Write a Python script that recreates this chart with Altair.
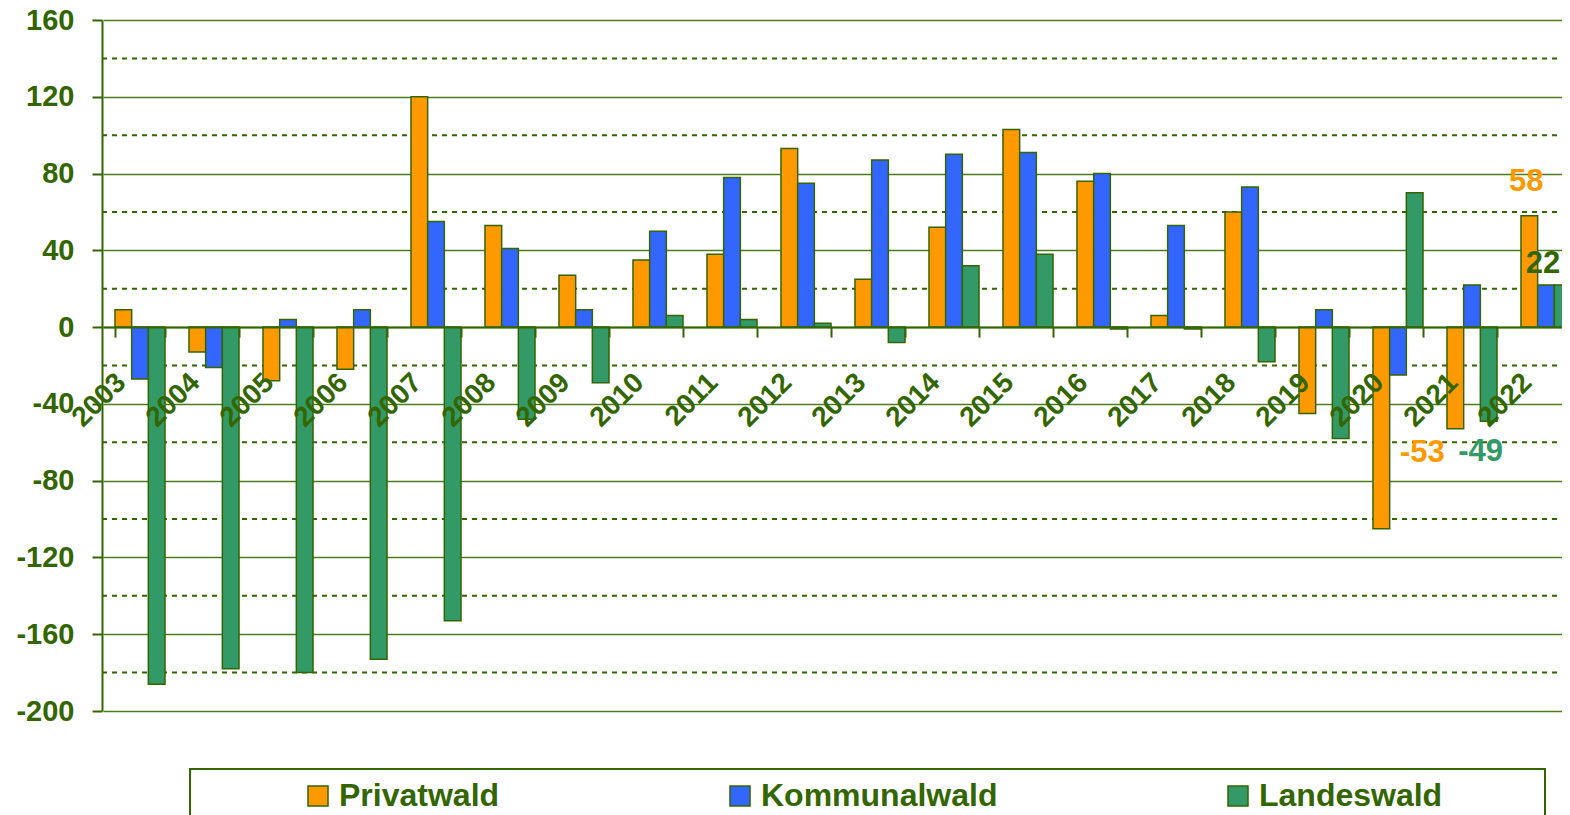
import altair as alt
import pandas as pd

# ---------------- data ----------------
years = [str(y) for y in range(2003, 2023)]
series = ["Privatwald", "Kommunalwald", "Landeswald"]
privatwald = [9, -13, -28, -22, 120, 53, 27, 35, 38, 93, 25, 52, 103, 76, 6, 60, -45, -105, -53, 58]
kommunalwald = [-27, -21, 4, 9, 55, 41, 9, 50, 78, 75, 87, 90, 91, 80, 53, 73, 9, -25, 22, 22]
landeswald = [-186, -178, -180, -173, -153, -48, -29, 6, 4, 2, -8, 32, 38, -1, -1, -18, -58, 70, -49, 22]
colors = ["#FF9900", "#3366FF", "#339966"]

y_ticks = [-200, -160, -120, -80, -40, 0, 40, 80, 120, 160]
y_minor = [-180, -140, -100, -60, -20, 20, 60, 100, 140]

ann_year = ["2022", "2022", "2021", "2021"]
ann_series = ["Privatwald", "Kommunalwald", "Privatwald", "Landeswald"]
ann_value = [58, 22, -53, -49]
ann_text = ["58", "22", "-53", "-49"]
ann_color = ["#FF9900", "#336600", "#FF9900", "#339966"]
ann_dx = [-3, -3, -33, -8]
ann_dy = [-34, -21, 24, 31]

# ---------------- style ----------------
FONT = "Liberation Sans"
DARK = "#336600"
GRID = "#4d7c1e"
W, H = 1460, 691

rows = []
for i, yr in enumerate(years):
    rows.append({"Jahr": yr, "Serie": "Privatwald", "Wert": privatwald[i]})
    rows.append({"Jahr": yr, "Serie": "Kommunalwald", "Wert": kommunalwald[i]})
    rows.append({"Jahr": yr, "Serie": "Landeswald", "Wert": landeswald[i]})
df = pd.DataFrame(rows)

yscale = alt.Scale(domain=[-200, 160], nice=False, zero=False)
y_axis = alt.Axis(
    title=None, values=y_ticks, grid=True, gridColor=GRID, gridWidth=1.5,
    domainColor=DARK, domainWidth=2, tickColor=DARK, tickWidth=2, tickSize=10,
    labelPadding=18, labelFont=FONT, labelFontSize=29, labelFontWeight="bold",
    labelColor=DARK, labelExpr="'' + datum.value",
)
xscale = alt.Scale(domain=years, range=[1, 1481], paddingInner=0.324, paddingOuter=0.162)
zero_px = H * 160 / 360
x_axis = alt.Axis(
    title=None, orient="bottom", offset=-(H - zero_px), grid=False, zindex=1,
    domainColor=DARK, domainWidth=2, tickColor=DARK, tickWidth=2, tickSize=10,
    tickBand="extent", labelAngle=315, labelAlign="right", labelBaseline="middle",
    labelPadding=41, labelOffset=-19, labelFont=FONT, labelFontSize=28,
    labelFontWeight="bold", labelColor=DARK, labelOverlap=False,
)
xoff_scale = alt.Scale(domain=series, paddingInner=0, paddingOuter=0)


def X(field="Jahr"):
    return alt.X(f"{field}:N", scale=xscale, axis=x_axis, sort=years)


def Y(field="Wert"):
    return alt.Y(f"{field}:Q", scale=yscale, axis=y_axis)


minor = alt.Chart(pd.DataFrame({"v": y_minor})).mark_rule(
    color=DARK, strokeWidth=2, strokeDash=[5, 5]
).encode(y=Y("v"), x=alt.value(0), x2=alt.value(W))

bars = alt.Chart(df).mark_bar(stroke=DARK, strokeWidth=1.5, clip=True).encode(
    x=X(),
    xOffset=alt.XOffset("Serie:N", scale=xoff_scale, sort=series),
    y=Y(),
    color=alt.Color(
        "Serie:N",
        scale=alt.Scale(domain=series, range=colors),
        sort=series,
        legend=alt.Legend(
            title=None, orient="none", legendX=200, legendY=760,
            direction="horizontal", columns=3, symbolType="square",
            symbolSize=400, symbolStrokeColor=DARK, symbolStrokeWidth=1.5,
            labelFont=FONT, labelFontSize=32, labelFontWeight="bold",
            labelColor=DARK, labelOffset=5, columnPadding=224,
            labelLimit=600, padding=0,
        ),
    ),
)

layers = [minor, bars]
for i in range(len(ann_text)):
    adf = pd.DataFrame({"Jahr": [ann_year[i]], "Serie": [ann_series[i]],
                        "Wert": [ann_value[i]], "Text": [ann_text[i]]})
    t = alt.Chart(adf).mark_text(
        font=FONT, fontSize=31, fontWeight="bold", color=ann_color[i],
        dx=ann_dx[i], dy=ann_dy[i], align="center", baseline="middle",
    ).encode(
        x=X(),
        xOffset=alt.XOffset("Serie:N", scale=xoff_scale, sort=series),
        y=Y(),
        text="Text:N",
    )
    layers.append(t)

box = alt.Chart(pd.DataFrame({"d": [0]})).mark_rect(
    fill="transparent", stroke=DARK, strokeWidth=2
).encode(x=alt.value(88), x2=alt.value(1443), y=alt.value(749), y2=alt.value(840))
layers.append(box)

chart = alt.layer(*layers).properties(
    width=W, height=H,
    autosize=alt.AutoSizeParams(type="none"),
    padding={"left": 94, "top": 12, "right": 0, "bottom": 104},
    background="white",
).configure_view(strokeWidth=0)

chart.save("out.html", embed_options={"renderer": "svg", "actions": False})
